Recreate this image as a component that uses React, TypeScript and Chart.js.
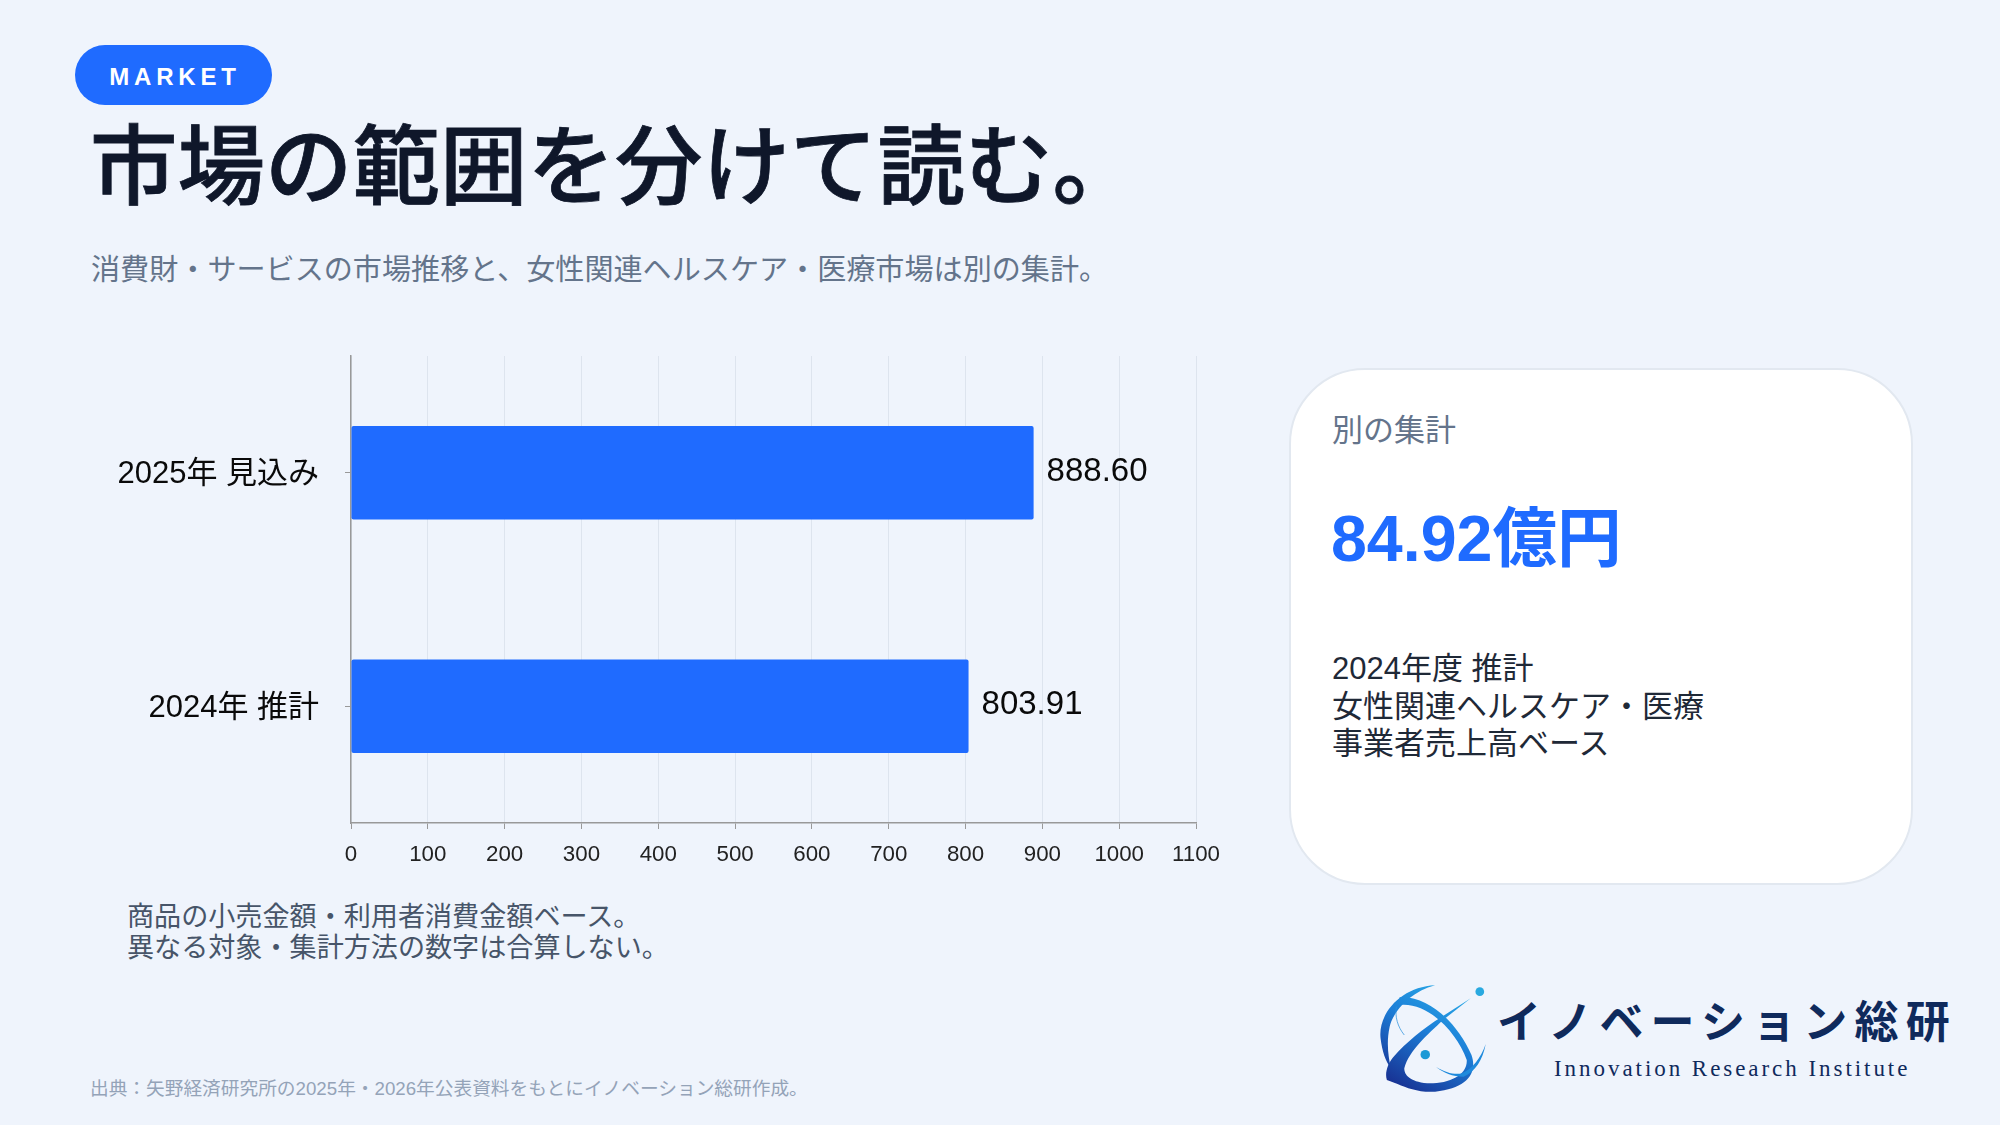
import React, { useEffect, useRef } from "react";
import { Chart, registerables } from "chart.js";

Chart.register(...registerables);

const categories = ["2025年 見込み", "2024年 推計"];
const marketValues = [888.6, 803.91];
const axisMax = 1100;
const axisStep = 100;

const BLUE = "#1F6BFF";
const LATIN_JP = '"Liberation Sans", "Noto Sans CJK JP", sans-serif';

const valueLabels = {
  id: "valueLabels",
  afterDatasetsDraw(chart: any) {
    const { ctx } = chart;
    const meta = chart.getDatasetMeta(0);
    ctx.save();
    ctx.font = `33px ${LATIN_JP}`;
    ctx.fillStyle = "#0a0a0a";
    ctx.textAlign = "left";
    ctx.textBaseline = "middle";
    meta.data.forEach((bar: any, i: number) => {
      ctx.fillText(marketValues[i].toFixed(2), bar.x + 13, bar.y - 1);
    });
    ctx.restore();
  },
};

const abs = (left: number, top: number, extra: React.CSSProperties = {}): React.CSSProperties => ({
  position: "absolute",
  left,
  top,
  whiteSpace: "nowrap",
  fontFamily: LATIN_JP,
  ...extra,
});

function Logo() {
  return (
    <svg
      style={{ position: "absolute", left: 1360, top: 960 }}
      width={620}
      height={150}
      viewBox="0 0 1568 450"
      preserveAspectRatio="none"
    >
      <defs>
        <linearGradient id="logoGrad" gradientUnits="userSpaceOnUse" x1="280" y1="90" x2="70" y2="380">
          <stop offset="0" stopColor="#2BB0E8" />
          <stop offset="0.45" stopColor="#1C7FD8" />
          <stop offset="1" stopColor="#182C8E" />
        </linearGradient>
      </defs>
      <path
        d="M100,112 C170,105 245,185 282,285 C298,340 270,385 190,395 C150,398 120,385 95,372 L68,360 C62,340 70,310 85,290 C115,250 160,205 205,172 L280,115 L210,180 C170,225 125,270 112,325 C112,345 125,365 170,370 C225,372 272,345 270,300 C245,215 170,125 100,135 Z"
        fill="url(#logoGrad)"
      />
      <path d="M190,76 C105,80 45,160 52,235 C56,275 65,305 78,325 C72,290 66,250 75,200 C85,150 130,95 190,76 Z" fill="url(#logoGrad)" />
      <path d="M92,140 C88,170 95,200 112,225" fill="none" stroke="#2A8FDC" strokeWidth="2" />
      <path d="M318,252 C310,300 292,335 262,350 C235,350 210,338 192,320 C215,338 240,345 258,340 C285,325 305,295 318,252 Z" fill="#1E8ADC" />
      <ellipse cx="303" cy="95" rx="11" ry="13" fill="#29A9E0" />
      <ellipse cx="165" cy="284" rx="12" ry="14" fill="#1C9AD6" />
    </svg>
  );
}

export default function App() {
  const canvasRef = useRef<HTMLCanvasElement>(null);

  useEffect(() => {
    const canvas = canvasRef.current;
    if (!canvas) return;
    const chart = new Chart(canvas, {
      type: "bar",
      data: {
        labels: categories,
        datasets: [
          {
            data: marketValues,
            backgroundColor: BLUE,
            borderRadius: 2,
            borderSkipped: false,
            categoryPercentage: 0.8,
            barPercentage: 0.5,
          },
        ],
      },
      plugins: [valueLabels],
      options: {
        indexAxis: "y",
        animation: false,
        responsive: false,
        maintainAspectRatio: false,
        layout: { padding: { top: 16, right: 64, left: 0, bottom: 0 } },
        plugins: { legend: { display: false }, tooltip: { enabled: false } },
        scales: {
          x: {
            min: 0,
            max: axisMax,
            afterFit: (s: any) => {
              s.height = 57;
            },
            ticks: {
              stepSize: axisStep,
              color: "#222222",
              font: { size: 22.3, family: LATIN_JP },
              padding: 12,
              maxRotation: 0,
              autoSkip: false,
              callback: (v: any) => String(v),
            },
            grid: { color: "#DDE4EE", lineWidth: 1, tickColor: "#999999", tickLength: 6 },
            border: { color: "#999999", width: 1.5 },
          },
          y: {
            afterFit: (s: any) => {
              s.width = 261;
              s.paddingTop = 0;
              s.paddingBottom = 0;
            },
            ticks: {
              color: "#0a0a0a",
              font: { size: 31, family: LATIN_JP },
              padding: 26,
              labelOffset: 2,
            },
            grid: { offset: false, drawOnChartArea: false, tickColor: "#999999", tickLength: 6 },
            border: { color: "#999999", width: 1.5 },
          },
        },
      },
    } as any);
    return () => chart.destroy();
  }, []);

  return (
    <div style={{ position: "fixed", left: 0, top: 0, width: 2000, height: 1125, background: "#EFF4FC", overflow: "hidden" }}>
      <div
        style={abs(75, 45, {
          width: 197,
          height: 60,
          borderRadius: 30,
          background: BLUE,
          color: "#fff",
          fontWeight: 700,
          fontSize: 24,
          letterSpacing: 4.8,
          lineHeight: "63px",
          textAlign: "center",
          textIndent: 3,
        })}
      >
        MARKET
      </div>
      <div style={abs(90, 116, { fontSize: 87.5, lineHeight: "104px", fontWeight: 500, color: "#0F172A", WebkitTextStroke: "0.8px #0F172A" } as React.CSSProperties)}>
        市場の範囲を分けて読む。
      </div>
      <div style={abs(91, 250, { fontSize: 29.1, lineHeight: "40px", color: "#64748B" })}>
        消費財・サービスの市場推移と、女性関連ヘルスケア・医療市場は別の集計。
      </div>

      <canvas ref={canvasRef} width={1170} height={540} style={{ position: "absolute", left: 90, top: 340, width: 1170, height: 540 }} />

      <div style={abs(127, 901, { fontSize: 27.1, lineHeight: "31px", color: "#475569", whiteSpace: "pre" })}>
        {"商品の小売金額・利用者消費金額ベース。\n異なる対象・集計方法の数字は合算しない。"}
      </div>

      <div
        style={{
          position: "absolute",
          left: 1289,
          top: 368,
          width: 624,
          height: 517,
          boxSizing: "border-box",
          background: "#fff",
          border: "2px solid #E2E8F0",
          borderRadius: 76,
        }}
      />
      <div style={abs(1332, 411, { fontSize: 31, lineHeight: "40px", color: "#64748B" })}>別の集計</div>
      <div style={abs(1331, 499, { fontSize: 64.5, lineHeight: "80px", fontWeight: 700, color: BLUE })}>84.92億円</div>
      <div style={abs(1332, 650, { fontSize: 31, lineHeight: "37.5px", color: "#1F2937", whiteSpace: "pre" })}>
        {"2024年度 推計\n女性関連ヘルスケア・医療\n事業者売上高ベース"}
      </div>

      <Logo />
      <div style={abs(1497, 991, { fontSize: 44, lineHeight: "64px", fontWeight: 700, letterSpacing: 7.2, color: "#0F2A5C" })}>イノベーション総研</div>
      <div style={abs(1554, 1055, { fontFamily: '"Liberation Serif", serif', fontSize: 23, lineHeight: "28px", letterSpacing: 2.95, color: "#0F2A5C" })}>
        Innovation Research Institute
      </div>

      <div style={abs(90, 1077, { fontSize: 18.7, lineHeight: "24px", color: "#94A3B8" })}>
        出典：矢野経済研究所の2025年・2026年公表資料をもとにイノベーション総研作成。
      </div>
    </div>
  );
}
